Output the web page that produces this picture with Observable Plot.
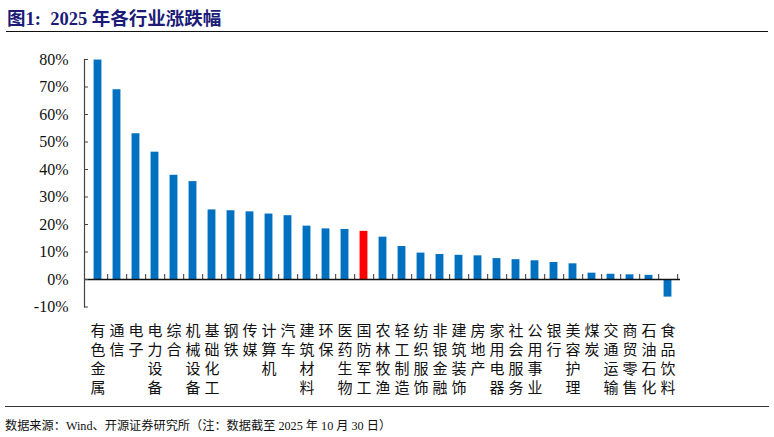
<!DOCTYPE html>
<html>
<head>
<meta charset="utf-8">
<script src="https://cdn.jsdelivr.net/npm/d3@7"></script>
<script src="https://cdn.jsdelivr.net/npm/@observablehq/plot@0.6"></script>
<style>
  html, body { margin: 0; padding: 0; background: #fff; }
  #wrap { position: relative; width: 774px; height: 437px; overflow: hidden; }
  #title { position: absolute; left: 0; top: 0; width: 774px; height: 40px; }
  #title span { position: absolute; left: 7px; top: 4px; font-family: "Liberation Serif", "Noto Sans CJK SC", serif; font-weight: bold; font-size: 18.5px; color: #1c1c78; white-space: nowrap; }
  #title .rule { position: absolute; left: 6px; top: 31px; width: 762px; height: 0; border-top: 1.6px solid #111; }
  #chart { position: absolute; left: 0; top: 40px; }
  #caption { position: absolute; left: 0; top: 406px; width: 774px; }
  #caption .rule { position: absolute; left: 5px; top: 0; width: 764px; border-top: 1.3px solid #333; }
  #caption span { position: absolute; left: 5px; top: 10px; font-family: "Liberation Serif", "Noto Sans CJK SC", serif; font-size: 12.2px; color: #111; white-space: nowrap; }
</style>
</head>
<body>
<div id="wrap">
  <div id="title"><span>图1:&nbsp; 2025 年各行业涨跌幅</span><div class="rule"></div></div>
  <div id="chart"></div>
  <div id="caption"><div class="rule"></div><span>数据来源：Wind、开源证券研究所（注：数据截至 2025 年 10 月 30 日）</span></div>
</div>
<script>
const industries = ["有色金属","通信","电子","电力设备","综合","机械设备","基础化工","钢铁","传媒","计算机","汽车","建筑材料","环保","医药生物","国防军工","农林牧渔","轻工制造","纺织服饰","非银金融","建筑装饰","房地产","家用电器","社会服务","公用事业","银行","美容护理","煤炭","交通运输","商贸零售","石油石化","食品饮料"];
const changes = [79.8, 69.0, 53.0, 46.3, 37.9, 35.6, 25.3, 25.0, 24.6, 23.8, 23.2, 19.4, 18.4, 18.2, 17.5, 15.4, 12.0, 9.6, 9.1, 8.8, 8.6, 7.6, 7.2, 6.8, 6.2, 5.7, 2.3, 1.9, 1.7, 1.5, -6.4];
const highlight = "国防军工";
const yTicks = [-10, 0, 10, 20, 30, 40, 50, 60, 70, 80];

const data = industries.map((name, i) => ({name, value: changes[i]}));

const W = 774, H = 360;
const mL = 84, mR = 94;
const step = (W - mL - mR) / industries.length;

const chart = Plot.plot({
  width: W,
  height: H,
  marginTop: 19,
  marginBottom: 93.5,
  marginLeft: mL,
  marginRight: mR,
  style: {background: "transparent", overflow: "visible"},
  x: {type: "band", domain: industries, padding: 0, axis: null},
  y: {domain: [-10, 80], ticks: yTicks},
  marks: [
    Plot.barY(data, {
      x: "name", y: "value",
      fill: d => d.name === highlight ? "#FF0000" : "#0070C0",
      insetLeft: step * 0.29, insetRight: step * 0.29
    }),
    Plot.ruleX(industries, {x: d => d, y1: 0, y2: 1.8, dx: step / 2, stroke: "#555", strokeWidth: 1.2}),
    Plot.ruleY([0], {stroke: "#111", strokeWidth: 1.3}),
    Plot.frame({anchor: "left", stroke: "#444", strokeWidth: 1.2}),
    Plot.axisY({
      ticks: yTicks, tickSize: 4, dx: 4, tickPadding: 16,
      tickFormat: d => d + "%",
      stroke: "#444",
      fontSize: 16, fontFamily: "Liberation Serif, serif", fill: "#111",
      label: null
    }),
    Plot.text(data, {
      x: "name", y: () => -10,
      text: d => d.name.split("").join("\n"),
      lineAnchor: "top", dy: 15.5,
      fontSize: 15, lineHeight: 1.27,
      fontFamily: "Noto Sans CJK SC, sans-serif",
      fill: "#111"
    })
  ]
});
document.getElementById("chart").appendChild(chart);
</script>
</body>
</html>
